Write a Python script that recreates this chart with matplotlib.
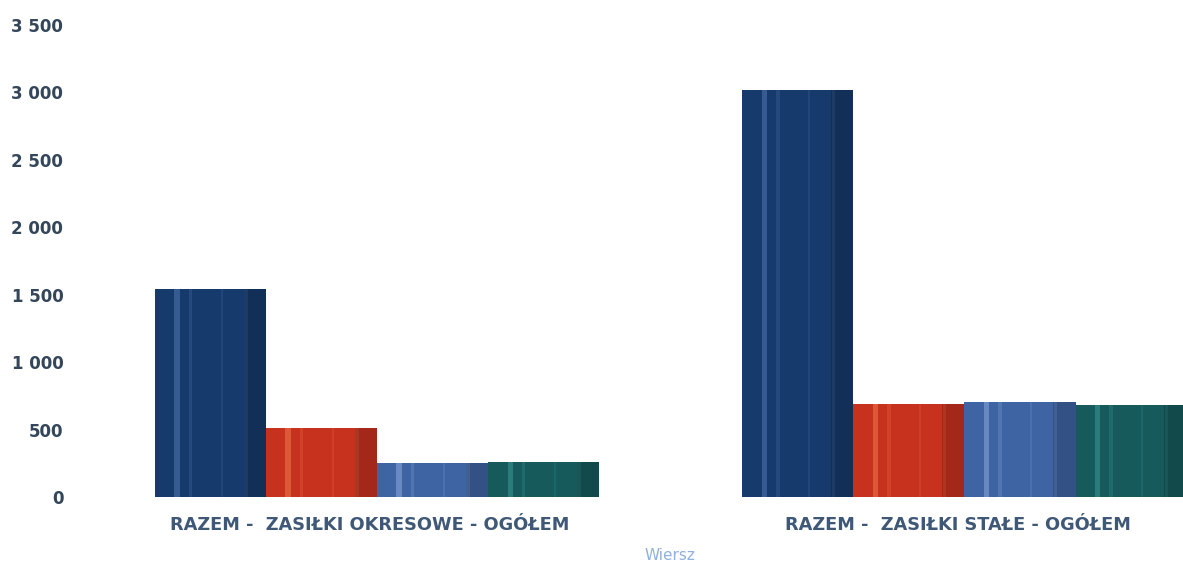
import numpy as np
import matplotlib
matplotlib.use("Agg")
import matplotlib.pyplot as plt
from matplotlib.transforms import ScaledTranslation

# dane
kategorie = ["RAZEM -  ZASIŁKI OKRESOWE - OGÓŁEM", "RAZEM -  ZASIŁKI STAŁE - OGÓŁEM"]
seria_1 = [1542, 3017]
seria_2 = [511, 690]
seria_3 = [252, 704]
seria_4 = [259, 682]
kolory = ["#173a6c", "#c7321f", "#3f64a3", "#165a5c"]
jasne = ["#4f78b0", "#f0784a", "#8aa8dc", "#3c9a98"]

plt.rcParams["font.family"] = ["DejaVu Sans"]

fig = plt.figure(figsize=(11.83, 5.67), dpi=100)
ax = fig.add_axes([155 / 1183, 1 - 497 / 567, 1 - 155 / 1183, (497 - 25) / 567])

x = np.arange(len(kategorie))
w = 0.189
serie = [seria_1, seria_2, seria_3, seria_4]
for i, s in enumerate(serie):
    pos = x + (i - 1.5) * w
    ax.bar(pos, s, width=w, color=kolory[i], edgecolor="none")
    # jasne pionowe paski (efekt walca)
    for off, a, ww in [(-0.30, 0.55, 0.05), (-0.18, 0.25, 0.03), (0.10, 0.2, 0.02), (0.32, 0.25, 0.03)]:
        ax.bar(pos + off * w, s, width=ww * w, color=jasne[i], alpha=a, edgecolor="none")
    ax.bar(pos + 0.40 * w, s, width=0.2 * w, color="black", alpha=0.18, edgecolor="none")

ax.set_xlim(-0.378, 1.372)
ax.set_ylim(0, 3500)
ax.set_yticks(np.arange(0, 3501, 500))
ax.set_yticklabels([f"{v:,}".replace(",", " ") for v in range(0, 3501, 500)])
ax.set_xticks(x)
ax.set_xticklabels(kategorie)
ax.tick_params(axis="y", length=0, pad=66, labelsize=12, labelcolor="#34465a")
ax.tick_params(axis="x", length=0, pad=14, labelsize=12.8, labelcolor="#3f5878")
for t in ax.get_xticklabels() + ax.get_yticklabels():
    t.set_fontweight("bold")
przes = ScaledTranslation(-0.07, 0, fig.dpi_scale_trans)
for t in ax.get_xticklabels():
    t.set_transform(t.get_transform() + przes)
for sp in ax.spines.values():
    sp.set_visible(False)

fig.text(670 / 1183, 1 - 555 / 567, "Wiersz", ha="center", va="center",
         fontsize=11, color="#8fb0e0")

fig.savefig("out.png", dpi=100)
